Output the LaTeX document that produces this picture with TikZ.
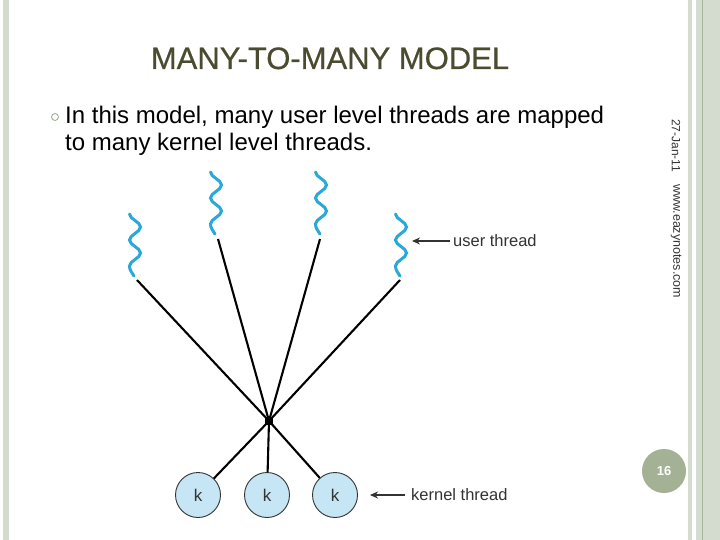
\documentclass[tikz,border=0pt]{standalone}
\usepackage{fontspec}
\setmainfont{Liberation Sans}
\newfontfamily\titlefont[FakeBold=0.6]{Liberation Sans}
\usetikzlibrary{arrows.meta}
\definecolor{band}{HTML}{D4DCD0}
\definecolor{bandline}{HTML}{A9B69A}
\definecolor{titlecol}{HTML}{4B4B2F}
\definecolor{threadcol}{HTML}{2AA8D8}
\definecolor{kfill}{HTML}{C6E6F6}
\definecolor{pgcol}{HTML}{A4B194}
\definecolor{bulletcol}{HTML}{9AA88C}
\definecolor{labelcol}{HTML}{333333}
\tikzset{
  thread/.style={draw=threadcol, line width=3pt, line cap=round},
  link/.style={draw=black, line width=2.1pt},
  kbox/.style={circle, draw=labelcol, line width=0.9pt, fill=kfill, minimum size=45pt, inner sep=0pt, font=\fontsize{17}{19}\selectfont, text=labelcol},
  lbl/.style={font=\fontsize{16.5}{18}\selectfont, text=labelcol, inner sep=0pt},
  ptr/.style={draw=labelcol, line width=1.5pt, -{Stealth[length=8pt,width=7pt]}},
  side/.style={rotate=-90, font=\fontsize{12}{14}\selectfont, text=labelcol, inner sep=0pt},
  bodytext/.style={anchor=base west, font=\fontsize{24}{27}\selectfont, inner sep=0pt}
}
\newcommand{\squig}[2]{%
  \draw[thread] (#1-5.5,#2)
    .. controls (#1-5.5,#2+5.2) and (#1+5.5,#2+7.8) .. (#1+5.5,#2+13)
    .. controls (#1+5.5,#2+18.2) and (#1-5.5,#2+20.8) .. (#1-5.5,#2+26)
    .. controls (#1-5.5,#2+31.2) and (#1+5.5,#2+33.8) .. (#1+5.5,#2+39)
    .. controls (#1+5.5,#2+44.2) and (#1-5.5,#2+46.8) .. (#1-5.5,#2+52)
    .. controls (#1-5.5,#2+56) and (#1-3,#2+59) .. (#1-1,#2+62);%
}
\begin{document}
\begin{tikzpicture}[x=1pt,y=-1pt]
\useasboundingbox (0,0) rectangle (720,540);
\fill[white] (0,0) rectangle (720,540);
% side bands
\fill[band] (3,0) rectangle (9,540);
\fill[band] (688,0) rectangle (692,540);
\fill[band] (696,0) rectangle (720,540);
\fill[bandline] (702,0) rectangle (703,540);
% title
\node[anchor=base, font=\titlefont\fontsize{31}{34}\selectfont, text=titlecol, inner sep=0pt] (title) at (330,69) {MANY-TO-MANY MODEL};
% bullet text
\node[circle, draw=bulletcol, line width=0.8pt, minimum size=7pt, inner sep=0pt] (bul) at (55,117) {};
\node[bodytext] (body1) at (65,124) {In this model, many user level threads are mapped};
\node[bodytext] (body2) at (65,151) {to many kernel level threads.};
% side texts
\node[side, anchor=west] (date) at (676,119) {27-Jan-11};
\node[side, anchor=west, font=\fontsize{12.5}{14}\selectfont] (web) at (676,184) {www.eazynotes.com};
\node[circle, fill=pgcol, minimum size=44pt, inner sep=0pt, text=white, font=\bfseries\fontsize{13}{15}\selectfont] (pg) at (664,471) {16};
% user threads
\squig{135}{214}
\squig{216}{172}
\squig{321}{172}
\squig{401}{214}
\coordinate (u1) at (137,280);
\coordinate (u2) at (218,239);
\coordinate (u3) at (320,239);
\coordinate (u4) at (400,280);
% junction
\node[fill=black, minimum size=8pt, inner sep=0pt] (j) at (269,421) {};
\foreach \u in {u1,u2,u3,u4}{ \draw[link] (\u) -- (j.center); }
% kernel threads
\node[kbox] (k1) at (198,495) {k};
\node[kbox] (k2) at (267,495) {k};
\node[kbox] (k3) at (335,495) {k};
\foreach \k in {k1,k2,k3}{ \draw[link] (j.center) -- (\k); }
% labels
\node[lbl, anchor=west] (lu) at (453,241) {user thread};
\coordinate (au) at (412,241);
\draw[ptr] (lu.west) ++(-3,0) -- (au);
\node[lbl, anchor=west] (lk) at (411,495) {kernel thread};
\coordinate (ak) at (370,495);
\draw[ptr] (lk.west) ++(-6,0) -- (ak);
\end{tikzpicture}
\end{document}
